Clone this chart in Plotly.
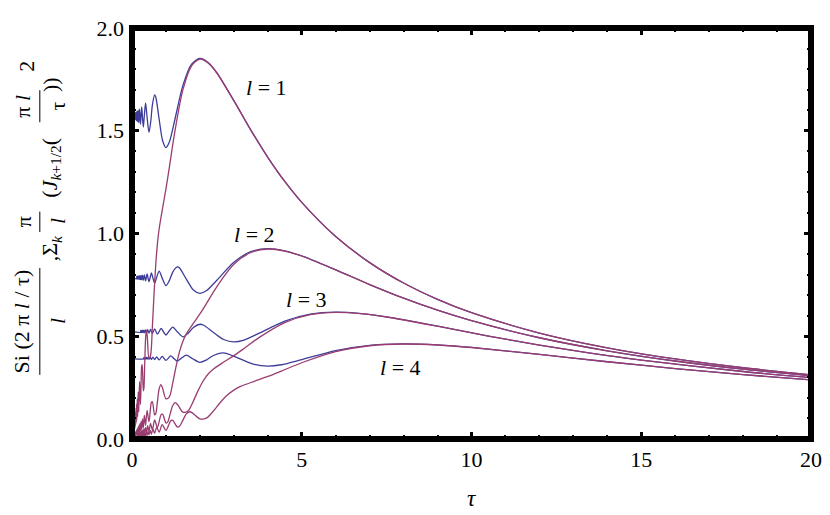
import plotly.graph_objects as go

# Si(2 pi l / tau) / l  (blue) -- tau and value for each l
tau_si1 = [0, 0.0667, 0.0690, 0.0714, 0.0741, 0.0769, 0.08, 0.0833, 0.0870, 0.0909,
           0.0952, 0.1, 0.1053, 0.1111, 0.1176, 0.125, 0.1333, 0.1429, 0.1538, 0.1667,
           0.1818, 0.2, 0.2222, 0.25, 0.2857, 0.3077, 0.3333, 0.3636, 0.4, 0.4444,
           0.5, 0.55, 0.6, 0.6667, 0.7, 0.8, 0.9, 1.0, 1.1, 1.25,
           1.5, 1.75, 2.0, 2.25, 2.5, 3, 3.5, 4, 4.5, 5,
           6, 7, 8, 9, 10, 12, 14, 16, 18, 20]
si1 = [1.5708, 1.5602, 1.5818, 1.5594, 1.5826, 1.5586, 1.5835, 1.5575, 1.5846, 1.5563,
       1.5860, 1.5549, 1.5876, 1.5531, 1.5895, 1.5509, 1.5920, 1.5481, 1.5953, 1.5443,
       1.5997, 1.5390, 1.6062, 1.5311, 1.6163, 1.5684, 1.5180, 1.5741, 1.6340, 1.5658,
       1.4921, 1.5414, 1.6248, 1.6748, 1.6639, 1.556, 1.4528, 1.4182, 1.445, 1.5449,
       1.7208, 1.8230, 1.8519, 1.8312, 1.7816, 1.6464, 1.5034, 1.3708, 1.2533, 1.1515,
       0.9853, 0.8584, 0.7590, 0.6795, 0.6147, 0.5157, 0.4438, 0.3894, 0.3467, 0.3124]

tau_si2 = [0, 0.1333, 0.1379, 0.1429, 0.1481, 0.1538, 0.16, 0.1667, 0.1739, 0.1818,
           0.1905, 0.2, 0.2105, 0.2222, 0.2353, 0.25, 0.2667, 0.2857, 0.3077, 0.3333,
           0.3636, 0.4, 0.4444, 0.5, 0.5714, 0.6154, 0.6667, 0.7273, 0.8, 0.8889,
           1.0, 1.1, 1.2, 1.3333, 1.4, 1.6, 1.8, 2.0, 2.2, 2.5,
           3.0, 3.5, 4.0, 4.5, 5.0, 6, 7, 8, 9, 10,
           12, 14, 16, 18, 20]
si2 = [0.7854, 0.7801, 0.7909, 0.7797, 0.7913, 0.7793, 0.7918, 0.7788, 0.7923, 0.7782,
       0.7930, 0.7775, 0.7938, 0.7766, 0.7948, 0.7755, 0.7960, 0.7741, 0.7977, 0.7722,
       0.7999, 0.7695, 0.8031, 0.7656, 0.8082, 0.7842, 0.7590, 0.7871, 0.8170, 0.7829,
       0.7461, 0.7707, 0.8124, 0.8374, 0.8320, 0.7780, 0.7264, 0.7091, 0.7225, 0.7725,
       0.8604, 0.9115, 0.9260, 0.9156, 0.8908, 0.8232, 0.7517, 0.6854, 0.6267, 0.5758,
       0.4927, 0.4292, 0.3795, 0.3397, 0.3074]

tau_si3 = [0, 0.25, 0.2609, 0.2727, 0.2857, 0.3, 0.3158, 0.3333, 0.3529, 0.375,
           0.4, 0.4286, 0.4615, 0.5, 0.5455, 0.6, 0.6667, 0.75, 0.8571, 0.9231,
           1.0, 1.0909, 1.2, 1.3333, 1.5, 1.65, 1.8, 2.0, 2.1, 2.4,
           2.7, 3.0, 3.3, 3.75, 4.5, 5.25, 6.0, 6.75, 7.5, 9,
           10.5, 12, 13.5, 15, 18, 20]
si3 = [0.5236, 0.5192, 0.5282, 0.5188, 0.5287, 0.5183, 0.5292, 0.5177, 0.5298, 0.5170,
       0.5307, 0.5160, 0.5318, 0.5148, 0.5332, 0.5130, 0.5354, 0.5104, 0.5388, 0.5228,
       0.5060, 0.5247, 0.5447, 0.5219, 0.4974, 0.5138, 0.5416, 0.5583, 0.5546, 0.5187,
       0.4843, 0.4727, 0.4817, 0.5150, 0.5736, 0.6077, 0.6173, 0.6104, 0.5939, 0.5488,
       0.5011, 0.4569, 0.4178, 0.3838, 0.3284, 0.2991]

tau_si4 = [0, 0.3333, 0.3478, 0.3636, 0.3810, 0.4, 0.4211, 0.4444, 0.4706, 0.5,
           0.5333, 0.5714, 0.6154, 0.6667, 0.7273, 0.8, 0.8889, 1.0, 1.1429, 1.2308,
           1.3333, 1.4545, 1.6, 1.7778, 2.0, 2.2, 2.4, 2.6667, 2.8, 3.2,
           3.6, 4.0, 4.4, 5, 6, 7, 8, 9, 10, 12,
           14, 16, 18, 20]
si4 = [0.3927, 0.3894, 0.3962, 0.3891, 0.3965, 0.3887, 0.3969, 0.3883, 0.3974, 0.3877,
       0.3980, 0.3870, 0.3988, 0.3861, 0.3999, 0.3848, 0.4016, 0.3828, 0.4041, 0.3921,
       0.3795, 0.3935, 0.4085, 0.3915, 0.3730, 0.3854, 0.4062, 0.4187, 0.4160, 0.3890,
       0.3632, 0.3546, 0.3613, 0.3862, 0.4302, 0.4558, 0.4630, 0.4578, 0.4454, 0.4116,
       0.3759, 0.3427, 0.3133, 0.2879]

# truncated Bessel sum (purple) -- tau and value for each l
tau_sum1 = [0, 0.05, 0.0513, 0.0526, 0.0541, 0.0556, 0.0571, 0.0588, 0.0606, 0.0625,
            0.0645, 0.0667, 0.0690, 0.0714, 0.0741, 0.0769, 0.08, 0.0833, 0.087, 0.0909,
            0.0952, 0.1, 0.1053, 0.1111, 0.1176, 0.125, 0.1333, 0.1429, 0.1538, 0.1667,
            0.1818, 0.2, 0.2222, 0.25, 0.2857, 0.3, 0.3333, 0.35, 0.375, 0.4,
            0.425, 0.45, 0.5, 0.55, 0.6, 0.65, 0.7, 0.75, 0.8, 0.9,
            1.0, 1.1, 1.25, 1.5, 1.75, 2.0, 2.25, 2.5, 3, 3.5,
            4, 4.5, 5, 6, 7, 8, 9, 10, 12, 14,
            16, 18, 20]
sum1 = [0, 0.0318, 0.0653, 0.0335, 0.0689, 0.0354, 0.0728, 0.0374, 0.0772, 0.0398,
        0.0822, 0.0424, 0.0878, 0.0455, 0.0943, 0.0490, 0.1018, 0.0531, 0.1107, 0.0579,
        0.1212, 0.0637, 0.1340, 0.0707, 0.1497, 0.0807, 0.1690, 0.0924, 0.1950, 0.1088,
        0.2296, 0.1319, 0.2790, 0.1680, 0.3560, 0.3620, 0.2340, 0.2460, 0.3670, 0.4890,
        0.5300, 0.4970, 0.3910, 0.4100, 0.5460, 0.7100, 0.8500, 0.9520, 1.0230, 1.1230,
        1.2170, 1.3220, 1.4840, 1.7000, 1.8150, 1.8490, 1.8290, 1.7810, 1.6464, 1.5034,
        1.3708, 1.2533, 1.1515, 0.9853, 0.8584, 0.7590, 0.6795, 0.6147, 0.5157, 0.4438,
        0.3894, 0.3467, 0.3124]

tau_sum2 = [0, 0.1, 0.1026, 0.1053, 0.1081, 0.1111, 0.1143, 0.1176, 0.1212, 0.125,
            0.129, 0.1333, 0.1379, 0.1429, 0.1481, 0.1538, 0.16, 0.1667, 0.1739, 0.1818,
            0.1905, 0.2, 0.2105, 0.2222, 0.2353, 0.25, 0.2667, 0.2857, 0.3077, 0.3333,
            0.3636, 0.4, 0.4444, 0.5, 0.5714, 0.6, 0.6667, 0.7, 0.75, 0.8,
            0.85, 0.9, 1.0, 1.1, 1.2, 1.3, 1.4, 1.5, 1.6, 1.8,
            2.0, 2.2, 2.5, 3.0, 3.5, 4.0, 4.5, 5.0, 6, 7,
            8, 9, 10, 12, 14, 16, 18, 20]
sum2 = [0, 0.0159, 0.0327, 0.0168, 0.0345, 0.0177, 0.0364, 0.0187, 0.0386, 0.0199,
        0.0411, 0.0212, 0.0439, 0.0228, 0.0472, 0.0245, 0.0509, 0.0266, 0.0554, 0.0290,
        0.0606, 0.0319, 0.0670, 0.0354, 0.0749, 0.0404, 0.0845, 0.0462, 0.0975, 0.0544,
        0.1148, 0.0660, 0.1395, 0.0840, 0.1780, 0.1810, 0.1170, 0.1230, 0.1835, 0.2445,
        0.2650, 0.2485, 0.1955, 0.2050, 0.2730, 0.3550, 0.4250, 0.4760, 0.5115, 0.5615,
        0.6085, 0.6610, 0.7420, 0.8500, 0.9075, 0.9245, 0.9147, 0.8905, 0.8232, 0.7517,
        0.6854, 0.6267, 0.5758, 0.4927, 0.4292, 0.3795, 0.3397, 0.3074]

tau_sum3 = [0, 0.15, 0.1538, 0.1579, 0.1622, 0.1667, 0.1714, 0.1765, 0.1818, 0.1875,
            0.1935, 0.2, 0.2069, 0.2143, 0.2222, 0.2308, 0.24, 0.25, 0.2609, 0.2727,
            0.2857, 0.3, 0.3158, 0.3333, 0.3529, 0.375, 0.4, 0.4286, 0.4615, 0.5,
            0.5455, 0.6, 0.6667, 0.75, 0.8571, 0.9, 1.0, 1.05, 1.125, 1.2,
            1.275, 1.35, 1.5, 1.65, 1.8, 1.95, 2.1, 2.25, 2.4, 2.7,
            3.0, 3.3, 3.75, 4.5, 5.25, 6.0, 6.75, 7.5, 9, 10.5,
            12, 13.5, 15, 18, 20]
sum3 = [0, 0.0106, 0.0218, 0.0112, 0.0230, 0.0118, 0.0243, 0.0125, 0.0257, 0.0133,
        0.0274, 0.0141, 0.0293, 0.0152, 0.0314, 0.0163, 0.0339, 0.0177, 0.0369, 0.0193,
        0.0404, 0.0212, 0.0447, 0.0236, 0.0499, 0.0269, 0.0563, 0.0308, 0.0650, 0.0363,
        0.0765, 0.0440, 0.0930, 0.0560, 0.1187, 0.1207, 0.0780, 0.0820, 0.1223, 0.1630,
        0.1767, 0.1657, 0.1303, 0.1367, 0.1820, 0.2367, 0.2833, 0.3173, 0.3410, 0.3743,
        0.4057, 0.4407, 0.4947, 0.5667, 0.6050, 0.6163, 0.6097, 0.5937, 0.5488, 0.5011,
        0.4569, 0.4178, 0.3838, 0.3284, 0.2991]

tau_sum4 = [0, 0.2, 0.2051, 0.2105, 0.2162, 0.2222, 0.2286, 0.2353, 0.2424, 0.25,
            0.2581, 0.2667, 0.2759, 0.2857, 0.2963, 0.3077, 0.32, 0.3333, 0.3478, 0.3636,
            0.381, 0.4, 0.4211, 0.4444, 0.4706, 0.5, 0.5333, 0.5714, 0.6154, 0.6667,
            0.7273, 0.8, 0.8889, 1.0, 1.1429, 1.2, 1.3333, 1.4, 1.5, 1.6,
            1.7, 1.8, 2.0, 2.2, 2.4, 2.6, 2.8, 3.0, 3.2, 3.6,
            4.0, 4.4, 5.0, 6.0, 7.0, 8.0, 9.0, 10, 12, 14,
            16, 18, 20]
sum4 = [0, 0.0080, 0.0163, 0.0084, 0.0172, 0.0089, 0.0182, 0.0094, 0.0193, 0.0100,
        0.0206, 0.0106, 0.0220, 0.0114, 0.0236, 0.0123, 0.0255, 0.0133, 0.0277, 0.0145,
        0.0303, 0.0159, 0.0335, 0.0177, 0.0374, 0.0202, 0.0423, 0.0231, 0.0488, 0.0272,
        0.0574, 0.0330, 0.0698, 0.0420, 0.0890, 0.0905, 0.0585, 0.0615, 0.0918, 0.1223,
        0.1325, 0.1243, 0.0978, 0.1025, 0.1365, 0.1775, 0.2125, 0.2380, 0.2558, 0.2808,
        0.3043, 0.3305, 0.3710, 0.4250, 0.4538, 0.4623, 0.4574, 0.4453, 0.4116, 0.3759,
        0.3427, 0.3133, 0.2879]

curve_labels = ["<i>l</i> = 1", "<i>l</i> = 2", "<i>l</i> = 3", "<i>l</i> = 4"]
label_tau = [3.95, 3.6, 5.15, 7.9]
label_val = [1.71, 0.995, 0.68, 0.35]

BLUE = "#3d3d99"
PURPLE = "#993d71"
SERIF = "Liberation Serif"

# plot box in page pixels; the page body adds an 8 px offset
OFF = 8
L, R, T, B = 132, 817, 16, 439
W, H = 830, 515


def paper(px, py):
    return (px - L) / (R - L), (B - py) / (B - T)


fig = go.Figure()
for tau, val in [(tau_si1, si1), (tau_si2, si2), (tau_si3, si3), (tau_si4, si4)]:
    fig.add_trace(go.Scatter(x=tau, y=val, mode="lines", hoverinfo="skip",
                             line=dict(color=BLUE, width=1.3, shape="spline", smoothing=0.8)))
for tau, val in [(tau_sum1, sum1), (tau_sum2, sum2), (tau_sum3, sum3), (tau_sum4, sum4)]:
    fig.add_trace(go.Scatter(x=tau, y=val, mode="lines", hoverinfo="skip",
                             line=dict(color=PURPLE, width=1.3, shape="spline", smoothing=0.8)))

for text, x, y in zip(curve_labels, label_tau, label_val):
    fig.add_annotation(x=x, y=y, text=text, showarrow=False,
                       font=dict(family=SERIF, size=22, color="black"))

# y-axis label, built from rotated pieces
pieces = [
    ("Si (2 π <i>l</i> / τ)", 20, 318),
    ("<i>l</i>", 57, 318),
    (",Σ<sub><i>k</i></sub>", 50, 243),
    ("π", 22, 215),
    ("<i>l</i>", 57, 215),
    ("(<i>J</i><sub><i>k</i>+1/2</sub>(", 50, 160),
    ("π <i>l</i>", 22, 96),
    ("τ", 57, 96),
    ("))", 50, 74),
    ("2", 26, 55),
]
for text, px, py in pieces:
    x, y = paper(px, py)
    fig.add_annotation(xref="paper", yref="paper", x=x, y=y, text=text, textangle=-90,
                       showarrow=False, xanchor="center", yanchor="middle",
                       font=dict(family=SERIF, size=22, color="black"))
for px, y0, y1 in [(39, 263, 373), (39, 205, 226), (39, 80, 113)]:
    xa, ya = paper(px, y0)
    _, yb = paper(px, y1)
    fig.add_shape(type="line", xref="paper", yref="paper", x0=xa, x1=xa, y0=ya, y1=yb,
                  line=dict(color="black", width=1))

x, y = paper((L + R) / 2, 500)
fig.add_annotation(xref="paper", yref="paper", x=x, y=y, text="<i>τ</i>", showarrow=False,
                   xanchor="center", yanchor="middle",
                   font=dict(family=SERIF, size=23, color="black"))

# thick frame
fig.add_shape(type="rect", xref="paper", yref="paper", x0=0, x1=1, y0=0, y1=1,
              line=dict(color="black", width=6), layer="above")

tick_common = dict(ticks="inside", ticklen=7, tickwidth=3, tickcolor="black",
                   showgrid=False, zeroline=False, showline=False, mirror="ticks",
                   ticklabeloverflow="allow",
                   tickfont=dict(family=SERIF, size=22, color="black"))
fig.update_xaxes(range=[0, 20], tickvals=[0, 5, 10, 15, 20], ticklabelstandoff=5,
                 minor=dict(dtick=1, ticks="inside", ticklen=4, tickwidth=2,
                            tickcolor="black", showgrid=False),
                 **tick_common)
fig.update_yaxes(range=[0, 2], tickvals=[0, 0.5, 1.0, 1.5, 2.0], tickformat=".1f",
                 ticklabelstandoff=7,
                 minor=dict(dtick=0.1, ticks="inside", ticklen=4, tickwidth=2,
                            tickcolor="black", showgrid=False),
                 **tick_common)
fig.update_layout(width=W - OFF, height=H - OFF, showlegend=False,
                  margin=dict(l=L - OFF, r=W - R, t=T - OFF, b=H - B),
                  paper_bgcolor="white", plot_bgcolor="white")

fig.write_html("out.html")
